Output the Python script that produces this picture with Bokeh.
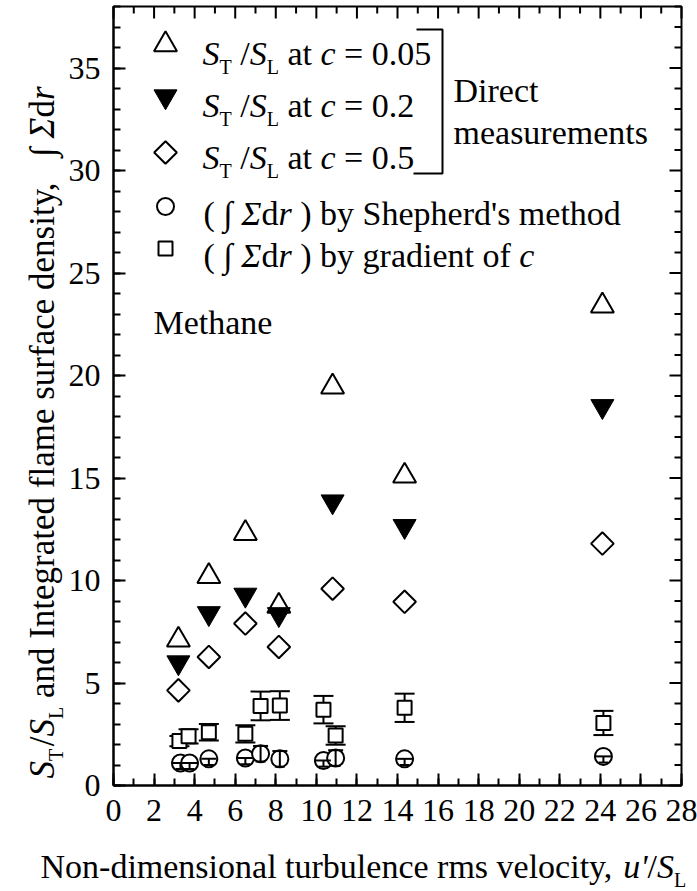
import math
from bokeh.plotting import figure
from bokeh.models import Range1d, FixedTicker, Label, Whisker, TeeHead, ColumnDataSource
from bokeh.embed import file_html
from bokeh.resources import INLINE

# ---------------- data ----------------
x_tick_values = [0, 2, 4, 6, 8, 10, 12, 14, 16, 18, 20, 22, 24, 26, 28]
x_minor_values = list(range(0, 29))
y_tick_values = [0, 5, 10, 15, 20, 25, 30, 35]
y_minor_values = list(range(0, 39))

st_005_x = [3.2, 4.7, 6.5, 8.15, 10.8, 14.35, 24.1]
st_005_y = [7.1, 10.2, 12.3, 8.75, 19.45, 15.1, 23.4]

st_02_x = [3.2, 4.7, 6.5, 8.15, 10.8, 14.35, 24.1]
st_02_y = [6.0, 8.4, 9.3, 8.35, 13.85, 12.65, 18.5]

st_05_x = [3.2, 4.7, 6.5, 8.15, 10.8, 14.35, 24.1]
st_05_y = [4.64, 6.27, 7.9, 6.76, 9.6, 8.96, 11.8]

shep_x = [3.3, 3.75, 4.7, 6.5, 7.25, 8.2, 10.35, 10.95, 14.35, 24.15]
shep_y = [1.1, 1.1, 1.3, 1.34, 1.55, 1.3, 1.22, 1.34, 1.3, 1.42]
shep_err_lo = [0.3, 0.3, 0.3, 0.3, 0.38, 0.38, 0.3, 0.38, 0.3, 0.3]
shep_err_hi = [0.0, 0.0, 0.0, 0.0, 0.38, 0.38, 0.0, 0.38, 0.0, 0.0]

grad_x = [3.25, 3.7, 4.7, 6.5, 7.25, 8.2, 10.35, 10.95, 14.35, 24.15]
grad_y = [2.17, 2.4, 2.6, 2.52, 3.88, 3.9, 3.7, 2.44, 3.79, 3.05]
grad_err = [0.25, 0.35, 0.4, 0.42, 0.7, 0.7, 0.67, 0.45, 0.69, 0.59]

X_END = 28
Y_END = 38

# ---------------- geometry (page pixels) ----------------
PAGE_W, PAGE_H = 697, 891
FL, FR, FT, FB = 113, 681, 6, 785          # edges of the plotting box
PXX = (FR - FL) / X_END                    # px per x unit
PXY = (FB - FT) / Y_END                    # px per y unit

FONT = "Liberation Serif"

# one figure whose drawing area is the whole page; the axes sit at x=0 / y=0
p = figure(width=PAGE_W, height=PAGE_H,
           x_range=Range1d(-FL / PXX, X_END + (PAGE_W - FR) / PXX),
           y_range=Range1d(-(PAGE_H - FB) / PXY, Y_END + FT / PXY),
           output_backend="svg", toolbar_location=None,
           min_border_left=0, min_border_right=0, min_border_top=0, min_border_bottom=0)
p.xgrid.visible = False
p.ygrid.visible = False
p.outline_line_color = None
p.background_fill_color = "white"
p.border_fill_color = "white"

for ax in (p.xaxis[0], p.yaxis[0]):
    ax.fixed_location = 0
    ax.major_tick_in = 12
    ax.major_tick_out = 0
    ax.minor_tick_in = 7
    ax.minor_tick_out = 0
    ax.major_tick_line_width = 2
    ax.minor_tick_line_width = 2
    ax.major_tick_line_color = "black"
    ax.minor_tick_line_color = "black"
    ax.axis_line_width = 2
    ax.axis_line_color = "black"
    ax.axis_label = None
    ax.major_label_text_font = FONT
    ax.major_label_text_font_size = "32px"
    ax.major_label_text_color = "black"
p.xaxis.bounds = (0, X_END)
p.yaxis.bounds = (0, Y_END)
p.xaxis.ticker = FixedTicker(ticks=x_tick_values, minor_ticks=x_minor_values)
p.yaxis.ticker = FixedTicker(ticks=y_tick_values, minor_ticks=y_minor_values)
p.xaxis.major_label_standoff = 14
p.yaxis.major_label_standoff = 13

# box around the plotting area
p.line([0, X_END, X_END, 0, 0], [0, 0, Y_END, Y_END, 0], line_color="black", line_width=2)

# inward ticks on the top and right edges
top_x0, top_x1, top_y0, top_y1 = [], [], [], []
for v in x_minor_values:
    L = 12 if v in x_tick_values else 7
    top_x0.append(v); top_x1.append(v)
    top_y0.append(Y_END); top_y1.append(Y_END - L / PXY)
p.segment(top_x0, top_y0, top_x1, top_y1, line_color="black", line_width=2)
rt_x0, rt_x1, rt_y0, rt_y1 = [], [], [], []
for v in y_minor_values:
    L = 12 if v in y_tick_values else 7
    rt_y0.append(v); rt_y1.append(v)
    rt_x0.append(X_END); rt_x1.append(X_END - L / PXX)
p.segment(rt_x0, rt_y0, rt_x1, rt_y1, line_color="black", line_width=2)

# ---------------- error bars ----------------
grad_src = ColumnDataSource(dict(
    x=grad_x, y=grad_y,
    lo=[y - e for y, e in zip(grad_y, grad_err)],
    hi=[y + e for y, e in zip(grad_y, grad_err)]))
p.add_layout(Whisker(source=grad_src, base="x", lower="lo", upper="hi", dimension="height",
                     line_width=2, line_color="black",
                     lower_head=TeeHead(size=20, line_width=2, line_color="black"),
                     upper_head=TeeHead(size=20, line_width=2, line_color="black")))

shep_src = ColumnDataSource(dict(
    x=shep_x, y=shep_y,
    lo=[y - e for y, e in zip(shep_y, shep_err_lo)],
    hi=[y + e for y, e in zip(shep_y, shep_err_hi)]))

# ---------------- markers ----------------
MK_TRI = 23
p.scatter(grad_x, grad_y, marker="square", size=14, line_color="black", line_width=2, fill_color="white")
p.scatter(shep_x, shep_y, marker="circle", size=17, line_color="black", line_width=2, fill_color="white")
p.add_layout(Whisker(source=shep_src, base="x", lower="lo", upper="hi", dimension="height",
                     line_width=2, line_color="black", level="overlay",
                     lower_head=TeeHead(size=10, line_width=2, line_color="black"),
                     upper_head=TeeHead(size=15, line_width=2, line_color="black")))
p.scatter(st_05_x, st_05_y, marker="square", angle=math.pi / 4, size=16, line_color="black",
          line_width=2, fill_color="white")
p.scatter(st_02_x, st_02_y, marker="inverted_triangle", size=MK_TRI, line_color="black",
          line_width=1, fill_color="black")
p.scatter(st_005_x, st_005_y, marker="triangle", size=MK_TRI, line_color="black",
          line_width=2, fill_color=None)


# ---------------- helpers for rich text ----------------
def page(px, py):
    return ((px - FL) / PXX, (FB - py) / PXY)


REG = {' ': .25, "'": .18, '(': .333, ')': .333, ',': .25, '-': .333, '.': .25, '/': .278,
       '=': .564, 'A': .722, 'D': .722, 'I': .333, 'L': .611, 'M': .889, 'N': .722, 'S': .556,
       'T': .611, 'a': .444, 'b': .5, 'c': .444, 'd': .5, 'e': .444, 'f': .333, 'g': .5,
       'h': .5, 'i': .278, 'l': .278, 'm': .778, 'n': .5, 'o': .5, 'p': .5, 'r': .333,
       's': .389, 't': .278, 'u': .5, 'v': .5, 'y': .5, '\u222b': .274, '\u03a3': .6}
for d in "0123456789":
    REG[d] = .5
IT = {'S': .5, 'c': .444, 'r': .389, 'u': .5, "'": .214, '\u03a3': .6}


def tw(text, italic):
    tbl = IT if italic else REG
    return sum(tbl.get(ch, REG.get(ch, .5)) for ch in text)


def put(px, py, text, italic, size, angle=0.0, align="left"):
    x, y = page(px, py)
    p.add_layout(Label(x=x, y=y, text=text, text_font=FONT, text_font_size=f"{size}px",
                       text_font_style="italic" if italic else "normal",
                       text_baseline="alphabetic", text_align=align, angle=angle,
                       text_color="black"))


def rich(pieces, px, py):
    adv = 0.0
    for text, italic, size, shift in pieces:
        if text.strip():
            put(px + adv, py + shift, text, italic, size)
        adv += tw(text, italic) * size


F = 34
SUB = 20
SH = 13


def st_label(cval):
    return [("S", True, F, 0), ("T", False, SUB, SH), (" ", False, F, 0), ("/", False, F, 0),
            ("S", True, F, 0), ("L", False, SUB, SH), (" ", False, F, 0), ("at", False, F, 0),
            (" ", False, F, 0), ("c", True, F, 0), (" ", False, F, 0), ("= " + cval, False, F, 0)]


def integ_label(rest, tail_italic=None):
    pcs = [("(", False, F, 0), (" ", False, F, 0), ("\u222b", False, F, 0), (" ", False, F, 0),
           ("\u03a3", True, F, 0), ("d", False, F, 0), ("r", True, F, 0), (" ", False, F, 0),
           (")", False, F, 0), (" ", False, F, 0), (rest, False, F, 0)]
    if tail_italic:
        pcs += [(" ", False, F, 0), (tail_italic, True, F, 0)]
    return pcs


# ---------------- legend ----------------
leg_px = 165
leg_marker_py = [44, 96, 152, 206, 248]
leg_text_py = [53, 105, 157, 213, 255]
leg_text_px = 202

lx, ly = page(leg_px, leg_marker_py[0])
p.scatter([lx], [ly], marker="triangle", size=MK_TRI, line_color="black", line_width=2, fill_color=None)
lx, ly = page(leg_px, leg_marker_py[1])
p.scatter([lx], [ly], marker="inverted_triangle", size=MK_TRI, line_color="black", line_width=1, fill_color="black")
lx, ly = page(leg_px, leg_marker_py[2])
p.scatter([lx], [ly], marker="square", angle=math.pi / 4, size=16, line_color="black", line_width=2, fill_color="white")
lx, ly = page(leg_px, leg_marker_py[3])
p.scatter([lx], [ly], marker="circle", size=17, line_color="black", line_width=2, fill_color="white")
lx, ly = page(leg_px, leg_marker_py[4])
p.scatter([lx], [ly], marker="square", size=14, line_color="black", line_width=2, fill_color="white")

rich(st_label("0.05"), leg_text_px, leg_text_py[0])
rich(st_label("0.2"), leg_text_px, leg_text_py[1])
rich(st_label("0.5"), leg_text_px, leg_text_py[2])
rich(integ_label("by Shepherd's method"), leg_text_px + 1, leg_text_py[3])
rich(integ_label("by gradient of", "c"), leg_text_px + 1, leg_text_py[4])

# bracket joining the three direct-measurement entries
br_pts = [(416, 29), (442, 29), (442, 173), (413, 173)]
p.line([page(a, b)[0] for a, b in br_pts], [page(a, b)[1] for a, b in br_pts],
       line_color="black", line_width=2)

rich([("Direct", False, F, 0)], 453, 90)
rich([("measurements", False, F, 0)], 453, 132)
rich([("Methane", False, F, 0)], 153, 322)

# ---------------- y title (rotated, reads bottom to top) ----------------
YF = 35
YBASE = 42          # page x of the rotated baseline
Y_START = 778       # page y where the y title starts (bottom)
Y_STOP = 86         # page y where the y title ends (top)
A90 = math.pi / 2

cur = Y_START
for text, italic, size, shift in [("S", True, YF, 0), ("T", False, SUB, SH), (" ", False, 10, 0),
                                  ("/", False, YF, 0), ("S", True, YF, 0), ("L", False, SUB, SH),
                                  (" ", False, YF, 0)]:
    if text.strip():
        put(YBASE + shift, cur, text, italic, size, angle=A90)
    cur -= tw(text, italic) * size
put(YBASE, cur, "and Integrated flame surface density,", False, YF, angle=A90)

cur = Y_STOP
for text, italic in [("r", True), ("d", False), ("\u03a3", True), (" ", False), ("\u222b", False)]:
    if text.strip():
        put(YBASE, cur, text, italic, YF, angle=A90, align="right")
    cur += tw(text, italic) * YF

# ---------------- x title ----------------
rich([("Non-dimensional turbulence rms velocity,", False, F, 0), (" ", False, F, 0),
      ("u'", True, F, 0), ("/", False, F, 0), ("S", True, F, 0), ("L", False, SUB, SH)], 40, 866)

open("out.html", "w").write(file_html(p, INLINE))
